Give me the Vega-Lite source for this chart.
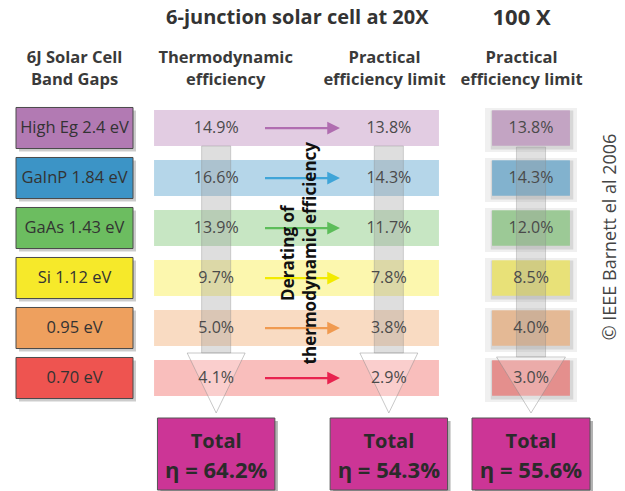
{
  "$schema": "https://vega.github.io/schema/vega-lite/v6.json",
  "padding": {"left": 15, "top": 0, "right": 0, "bottom": 0},
  "background": "white",
  "config": {
    "font": "Open Sans",
    "view": {"stroke": null},
    "locale": {"number": {"decimal": ".", "thousands": ",", "grouping": [3], "currency": ["η = ", "%"]}}
  },
  "datasets": {
    "junctions": [
      {"junction": "High Eg 2.4 eV", "Thermodynamic efficiency": 0.149, "Practical efficiency limit": 0.138, "Practical efficiency limit at 100 X": 0.138},
      {"junction": "GaInP 1.84 eV", "Thermodynamic efficiency": 0.166, "Practical efficiency limit": 0.143, "Practical efficiency limit at 100 X": 0.143},
      {"junction": "GaAs 1.43 eV", "Thermodynamic efficiency": 0.139, "Practical efficiency limit": 0.117, "Practical efficiency limit at 100 X": 0.120},
      {"junction": "Si 1.12 eV", "Thermodynamic efficiency": 0.097, "Practical efficiency limit": 0.078, "Practical efficiency limit at 100 X": 0.085},
      {"junction": "0.95 eV", "Thermodynamic efficiency": 0.050, "Practical efficiency limit": 0.038, "Practical efficiency limit at 100 X": 0.040},
      {"junction": "0.70 eV", "Thermodynamic efficiency": 0.041, "Practical efficiency limit": 0.029, "Practical efficiency limit at 100 X": 0.030}
    ]
  },
  "columns": 3,
  "spacing": {"column": 40, "row": 12},
  "bounds": "flush",
  "align": "each",
  "resolve": {"scale": {"x": "independent", "y": "independent", "color": "independent", "fill": "independent"}},
  "concat": [
    {
      "width": 117,
      "height": 406,
      "layer": [
        {
          "data": {"name": "junctions"},
          "mark": {"type": "rect", "fill": "#000000", "opacity": 0.2, "xOffset": 3, "yOffset": 3, "height": {"band": 1.14}},
          "encoding": {
            "x": {"datum": "Band gaps", "type": "nominal", "axis": null, "scale": {"type": "band", "domain": ["Band gaps"], "paddingInner": 0, "paddingOuter": 0}},
            "y": {"field": "junction", "type": "nominal", "axis": null, "scale": {"type": "band", "domain": ["title", "header", "High Eg 2.4 eV", "GaInP 1.84 eV", "GaAs 1.43 eV", "Si 1.12 eV", "0.95 eV", "0.70 eV"], "paddingInner": 0.28, "paddingOuter": 0.2}}
          }
        },
        {
          "data": {"name": "junctions"},
          "mark": {"type": "rect", "stroke": "#4a4a4a", "strokeWidth": 1, "height": {"band": 1.14}},
          "encoding": {
            "x": {"datum": "Band gaps", "type": "nominal"},
            "y": {"field": "junction", "type": "nominal"},
            "color": {"field": "junction", "type": "nominal", "legend": null, "scale": {"domain": ["High Eg 2.4 eV", "GaInP 1.84 eV", "GaAs 1.43 eV", "Si 1.12 eV", "0.95 eV", "0.70 eV"], "range": ["#b27ab3", "#3c94c6", "#6cbd60", "#f6e92a", "#eea05e", "#ee5450"]}}
          }
        },
        {
          "data": {"name": "junctions"},
          "mark": {"type": "text", "fontSize": 16.5, "fill": "#333333"},
          "encoding": {
            "x": {"datum": "Band gaps", "type": "nominal"},
            "y": {"field": "junction", "type": "nominal"},
            "text": {"field": "junction"}
          }
        },
        {
          "data": {"values": [{"row": "header", "heading": "6J Solar Cell\nBand Gaps"}]},
          "mark": {"type": "text", "fontSize": 16.5, "fontWeight": "bold", "fill": "#3a3a3a", "lineHeight": 22, "lineBreak": "\n"},
          "encoding": {
            "x": {"datum": "Band gaps", "type": "nominal"},
            "y": {"field": "row", "type": "nominal", "bandPosition": -0.05},
            "text": {"field": "heading"}
          }
        }
      ]
    },
    {
      "width": 259,
      "height": 406,
      "layer": [
        {
          "data": {"name": "junctions"},
          "mark": {"type": "rect", "opacity": 0.38, "width": {"band": 3.3}, "xOffset": -6},
          "encoding": {
            "x": {"datum": "Derating", "type": "nominal", "axis": null, "scale": {"type": "band", "domain": ["Thermodynamic efficiency", "Derating", "Practical efficiency limit"], "paddingInner": 0, "paddingOuter": 0}},
            "y": {"field": "junction", "type": "nominal", "axis": null, "scale": {"type": "band", "domain": ["title", "header", "High Eg 2.4 eV", "GaInP 1.84 eV", "GaAs 1.43 eV", "Si 1.12 eV", "0.95 eV", "0.70 eV"], "paddingInner": 0.28, "paddingOuter": 0.2}},
            "color": {"field": "junction", "type": "nominal", "legend": null, "scale": {"domain": ["High Eg 2.4 eV", "GaInP 1.84 eV", "GaAs 1.43 eV", "Si 1.12 eV", "0.95 eV", "0.70 eV"], "range": ["#b27ab3", "#3c94c6", "#6cbd60", "#f6e92a", "#eea05e", "#ee5450"]}}
          }
        },
        {
          "data": {"values": [{"column": "Thermodynamic efficiency"}, {"column": "Practical efficiency limit"}]},
          "mark": {"type": "point", "shape": "M-0.109,-0.989L0.109,-0.989L0.109,0.562L-0.109,0.562Z", "size": 71289, "filled": true, "fill": "#9b9b9b", "fillOpacity": 0.33, "stroke": "#8c8c8c", "strokeOpacity": 0.45, "strokeWidth": 0.8, "opacity": 1},
          "encoding": {
            "x": {"field": "column", "type": "nominal"},
            "y": {"datum": "Si 1.12 eV", "type": "nominal"}
          }
        },
        {
          "data": {"values": [{"column": "Thermodynamic efficiency"}, {"column": "Practical efficiency limit"}]},
          "mark": {"type": "point", "shape": "M-0.217,0.562L0.217,0.562L0,1.011Z", "size": 71289, "filled": true, "fill": "#ffffff", "fillOpacity": 0.25, "stroke": "#8c8c8c", "strokeOpacity": 0.6, "strokeWidth": 0.8, "opacity": 1},
          "encoding": {
            "x": {"field": "column", "type": "nominal"},
            "y": {"datum": "Si 1.12 eV", "type": "nominal"}
          }
        },
        {
          "data": {"name": "junctions"},
          "mark": {"type": "point", "shape": "M-1,-0.03L0.66,-0.03L0.66,-0.17L1,0L0.66,0.17L0.66,0.03L-1,0.03Z", "size": 5625, "filled": true, "opacity": 1},
          "encoding": {
            "x": {"datum": "Derating", "type": "nominal"},
            "y": {"field": "junction", "type": "nominal"},
            "fill": {"field": "junction", "type": "nominal", "legend": null, "scale": {"domain": ["High Eg 2.4 eV", "GaInP 1.84 eV", "GaAs 1.43 eV", "Si 1.12 eV", "0.95 eV", "0.70 eV"], "range": ["#b06db0", "#3fa5d8", "#5dbd5a", "#f2ea00", "#f09a50", "#e8234f"]}}
          }
        },
        {
          "data": {"name": "junctions"},
          "transform": [{"fold": ["Thermodynamic efficiency", "Practical efficiency limit"], "as": ["column", "value"]}],
          "mark": {"type": "text", "fontSize": 16, "fill": "#4a4a4a"},
          "encoding": {
            "x": {"field": "column", "type": "nominal"},
            "y": {"field": "junction", "type": "nominal"},
            "text": {"field": "value", "type": "quantitative", "format": ".1%"}
          }
        },
        {
          "data": {"values": [{"column": "Derating", "row": "GaAs 1.43 eV", "note": "Derating of\nthermodynamic efficiency"}]},
          "mark": {"type": "text", "angle": 270, "fontSize": 17, "fontWeight": "bold", "fill": "#111111", "lineHeight": 22, "lineBreak": "\n"},
          "encoding": {
            "x": {"field": "column", "type": "nominal", "bandPosition": 0.34},
            "y": {"field": "row", "type": "nominal", "bandPosition": 1.2},
            "text": {"field": "note"}
          }
        },
        {
          "data": {"values": [{"column": "Derating", "row": "title", "heading": "6-junction solar cell at 20X"}]},
          "mark": {"type": "text", "fontSize": 20, "fontWeight": "bold", "fill": "#333333"},
          "encoding": {
            "x": {"field": "column", "type": "nominal", "bandPosition": 0.44},
            "y": {"field": "row", "type": "nominal", "bandPosition": 0.22},
            "text": {"field": "heading"}
          }
        },
        {
          "data": {"values": [{"column": "Thermodynamic efficiency", "row": "header", "heading": "Thermodynamic\nefficiency"}]},
          "mark": {"type": "text", "fontSize": 16.5, "fontWeight": "bold", "fill": "#3a3a3a", "lineHeight": 22, "lineBreak": "\n"},
          "encoding": {
            "x": {"field": "column", "type": "nominal", "bandPosition": 0.61},
            "y": {"field": "row", "type": "nominal", "bandPosition": -0.05},
            "text": {"field": "heading"}
          }
        },
        {
          "data": {"values": [{"column": "Practical efficiency limit", "row": "header", "heading": "Practical\nefficiency limit"}]},
          "mark": {"type": "text", "fontSize": 16.5, "fontWeight": "bold", "fill": "#3a3a3a", "lineHeight": 22, "lineBreak": "\n"},
          "encoding": {
            "x": {"field": "column", "type": "nominal", "bandPosition": 0.45},
            "y": {"field": "row", "type": "nominal", "bandPosition": -0.05},
            "text": {"field": "heading"}
          }
        }
      ]
    },
    {
      "width": 118,
      "height": 406,
      "layer": [
        {
          "data": {"name": "junctions"},
          "mark": {"type": "rect", "fill": "#000000", "opacity": 0.06, "yOffset": 2, "width": {"band": 0.78}, "height": {"band": 1.22}},
          "encoding": {
            "x": {"datum": "100 X", "type": "nominal", "axis": null, "scale": {"type": "band", "domain": ["100 X"], "paddingInner": 0, "paddingOuter": 0}},
            "y": {"field": "junction", "type": "nominal", "axis": null, "scale": {"type": "band", "domain": ["title", "header", "High Eg 2.4 eV", "GaInP 1.84 eV", "GaAs 1.43 eV", "Si 1.12 eV", "0.95 eV", "0.70 eV"], "paddingInner": 0.28, "paddingOuter": 0.2}}
          }
        },
        {
          "data": {"name": "junctions"},
          "mark": {"type": "rect", "fill": "#000000", "opacity": 0.1, "xOffset": 1, "yOffset": 2, "width": {"band": 0.7}, "height": {"band": 1.08}},
          "encoding": {
            "x": {"datum": "100 X", "type": "nominal"},
            "y": {"field": "junction", "type": "nominal"}
          }
        },
        {
          "data": {"name": "junctions"},
          "mark": {"type": "rect", "opacity": 0.55, "width": {"band": 0.66}, "height": {"band": 0.98}},
          "encoding": {
            "x": {"datum": "100 X", "type": "nominal"},
            "y": {"field": "junction", "type": "nominal"},
            "color": {"field": "junction", "type": "nominal", "legend": null, "scale": {"domain": ["High Eg 2.4 eV", "GaInP 1.84 eV", "GaAs 1.43 eV", "Si 1.12 eV", "0.95 eV", "0.70 eV"], "range": ["#b27ab3", "#3c94c6", "#6cbd60", "#f6e92a", "#eea05e", "#ee5450"]}}
          }
        },
        {
          "data": {"values": [{"column": "100 X"}]},
          "mark": {"type": "point", "shape": "M-0.109,-0.981L0.109,-0.981L0.109,0.592L-0.109,0.592Z", "size": 71289, "filled": true, "fill": "#9b9b9b", "fillOpacity": 0.3, "stroke": "#8c8c8c", "strokeOpacity": 0.45, "strokeWidth": 0.8, "opacity": 1},
          "encoding": {
            "x": {"field": "column", "type": "nominal"},
            "y": {"datum": "Si 1.12 eV", "type": "nominal"}
          }
        },
        {
          "data": {"values": [{"column": "100 X"}]},
          "mark": {"type": "point", "shape": "M-0.258,0.592L0.258,0.592L0,1.011Z", "size": 71289, "filled": true, "fill": "#ffffff", "fillOpacity": 0.25, "stroke": "#8c8c8c", "strokeOpacity": 0.6, "strokeWidth": 0.8, "opacity": 1},
          "encoding": {
            "x": {"field": "column", "type": "nominal"},
            "y": {"datum": "Si 1.12 eV", "type": "nominal"}
          }
        },
        {
          "data": {"name": "junctions"},
          "mark": {"type": "text", "fontSize": 16, "fill": "#4a4a4a"},
          "encoding": {
            "x": {"datum": "100 X", "type": "nominal"},
            "y": {"field": "junction", "type": "nominal"},
            "text": {"field": "Practical efficiency limit at 100 X", "type": "quantitative", "format": ".1%"}
          }
        },
        {
          "data": {"values": [{"column": "100 X", "row": "title", "heading": "100 X"}]},
          "mark": {"type": "text", "fontSize": 22, "fontWeight": "bold", "fill": "#333333"},
          "encoding": {
            "x": {"field": "column", "type": "nominal", "bandPosition": 0.42},
            "y": {"field": "row", "type": "nominal", "bandPosition": 0.22},
            "text": {"field": "heading"}
          }
        },
        {
          "data": {"values": [{"column": "100 X", "row": "header", "heading": "Practical\nefficiency limit"}]},
          "mark": {"type": "text", "fontSize": 16.5, "fontWeight": "bold", "fill": "#3a3a3a", "lineHeight": 22, "lineBreak": "\n"},
          "encoding": {
            "x": {"field": "column", "type": "nominal", "bandPosition": 0.42},
            "y": {"field": "row", "type": "nominal", "bandPosition": -0.05},
            "text": {"field": "heading"}
          }
        },
        {
          "data": {"values": [{"column": "100 X", "row": "GaAs 1.43 eV", "credit": "© IEEE Barnett el al 2006"}]},
          "mark": {"type": "text", "angle": 270, "fontSize": 18, "fill": "#444444"},
          "encoding": {
            "x": {"field": "column", "type": "nominal", "bandPosition": 1.18},
            "y": {"field": "row", "type": "nominal", "bandPosition": 0.75},
            "text": {"field": "credit"}
          }
        }
      ]
    },
    {
      "width": 117,
      "height": 72,
      "data": {"values": []},
      "mark": {"type": "rect", "opacity": 0},
      "encoding": {}
    },
    {
      "width": 259,
      "height": 72,
      "data": {"name": "junctions"},
      "transform": [
        {"fold": ["Thermodynamic efficiency", "Practical efficiency limit"], "as": ["column", "value"]},
        {"aggregate": [{"op": "sum", "field": "value", "as": "total"}], "groupby": ["column"]}
      ],
      "layer": [
        {
          "mark": {"type": "rect", "fill": "#000000", "opacity": 0.3, "xOffset": 3, "yOffset": 3, "width": {"band": 1.36}},
          "encoding": {
            "x": {"field": "column", "type": "nominal", "axis": null, "scale": {"type": "band", "domain": ["Thermodynamic efficiency", "Derating", "Practical efficiency limit"], "paddingInner": 0, "paddingOuter": 0}},
            "y": {"datum": "Total", "type": "nominal", "axis": null, "scale": {"type": "band", "domain": ["Total"], "paddingInner": 0, "paddingOuter": 0}}
          }
        },
        {
          "mark": {"type": "rect", "fill": "#cc3596", "stroke": "#555555", "strokeWidth": 1, "width": {"band": 1.36}},
          "encoding": {
            "x": {"field": "column", "type": "nominal"},
            "y": {"datum": "Total", "type": "nominal"}
          }
        },
        {
          "mark": {"type": "text", "text": "Total", "fontSize": 20, "fontWeight": "bold", "fill": "#2b2b2b"},
          "encoding": {
            "x": {"field": "column", "type": "nominal"},
            "y": {"datum": "Total", "type": "nominal", "bandPosition": 0.33}
          }
        },
        {
          "mark": {"type": "text", "fontSize": 22, "fontWeight": "bold", "fill": "#2b2b2b"},
          "encoding": {
            "x": {"field": "column", "type": "nominal"},
            "y": {"datum": "Total", "type": "nominal", "bandPosition": 0.74},
            "text": {"field": "total", "type": "quantitative", "format": "$.1%"}
          }
        }
      ]
    },
    {
      "width": 118,
      "height": 72,
      "data": {"name": "junctions"},
      "transform": [
        {"aggregate": [{"op": "sum", "field": "Practical efficiency limit at 100 X", "as": "total"}]}
      ],
      "layer": [
        {
          "mark": {"type": "rect", "fill": "#000000", "opacity": 0.3, "xOffset": 3, "yOffset": 3},
          "encoding": {
            "x": {"datum": "100 X", "type": "nominal", "axis": null, "scale": {"type": "band", "domain": ["100 X"], "paddingInner": 0, "paddingOuter": 0}},
            "y": {"datum": "Total", "type": "nominal", "axis": null, "scale": {"type": "band", "domain": ["Total"], "paddingInner": 0, "paddingOuter": 0}}
          }
        },
        {
          "mark": {"type": "rect", "fill": "#cc3596", "stroke": "#555555", "strokeWidth": 1},
          "encoding": {
            "x": {"datum": "100 X", "type": "nominal"},
            "y": {"datum": "Total", "type": "nominal"}
          }
        },
        {
          "mark": {"type": "text", "text": "Total", "fontSize": 20, "fontWeight": "bold", "fill": "#2b2b2b"},
          "encoding": {
            "x": {"datum": "100 X", "type": "nominal"},
            "y": {"datum": "Total", "type": "nominal", "bandPosition": 0.33}
          }
        },
        {
          "mark": {"type": "text", "fontSize": 22, "fontWeight": "bold", "fill": "#2b2b2b"},
          "encoding": {
            "x": {"datum": "100 X", "type": "nominal"},
            "y": {"datum": "Total", "type": "nominal", "bandPosition": 0.74},
            "text": {"field": "total", "type": "quantitative", "format": "$.1%"}
          }
        }
      ]
    }
  ]
}
